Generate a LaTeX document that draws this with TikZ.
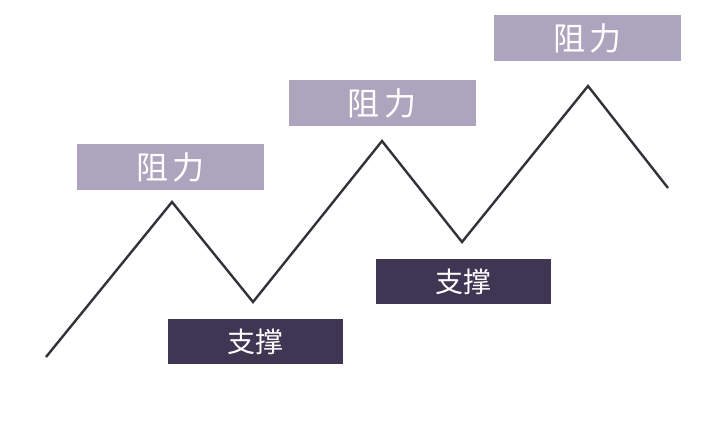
\documentclass[tikz,border=0pt]{standalone}
\usepackage{fontspec}
\newfontfamily\cjk{Noto Sans CJK SC}
\definecolor{resist}{RGB}{173,164,190}
\definecolor{support}{RGB}{62,54,82}
\definecolor{trend}{RGB}{50,50,56}
\begin{document}
\begin{tikzpicture}[x=1pt,y=-1pt,
  resistbox/.style={fill=resist,text=white,inner sep=0pt,minimum width=187pt,minimum height=46pt,font=\cjk\fontsize{32}{34}\selectfont},
  supportbox/.style={fill=support,text=white,inner sep=0pt,minimum width=175pt,minimum height=45pt,font=\cjk\fontsize{28}{30}\selectfont}]

\useasboundingbox (0,0) rectangle (728,422);

% resistance and support labels
\node[resistbox] (r1) at (170.5,167) {阻\hspace{5pt}力};
\node[resistbox] (r2) at (382,103) {阻\hspace{5pt}力};
\node[resistbox] (r3) at (587.5,38) {阻\hspace{5pt}力};

\node[supportbox] (s1) at (255,341.5) {支撑};
\node[supportbox] (s2) at (463.5,281.5) {支撑};

% zigzag
\coordinate (p0) at (46,357);
\coordinate (p1) at (172,202);
\coordinate (p2) at (253,302);
\coordinate (p3) at (382,141);
\coordinate (p4) at (462,242);
\coordinate (p5) at (588,86);
\coordinate (p6) at (668,188);

\draw[trend,line width=2.4pt] (p0) -- (p1) -- (p2) -- (p3) -- (p4) -- (p5) -- (p6);

\end{tikzpicture}
\end{document}
